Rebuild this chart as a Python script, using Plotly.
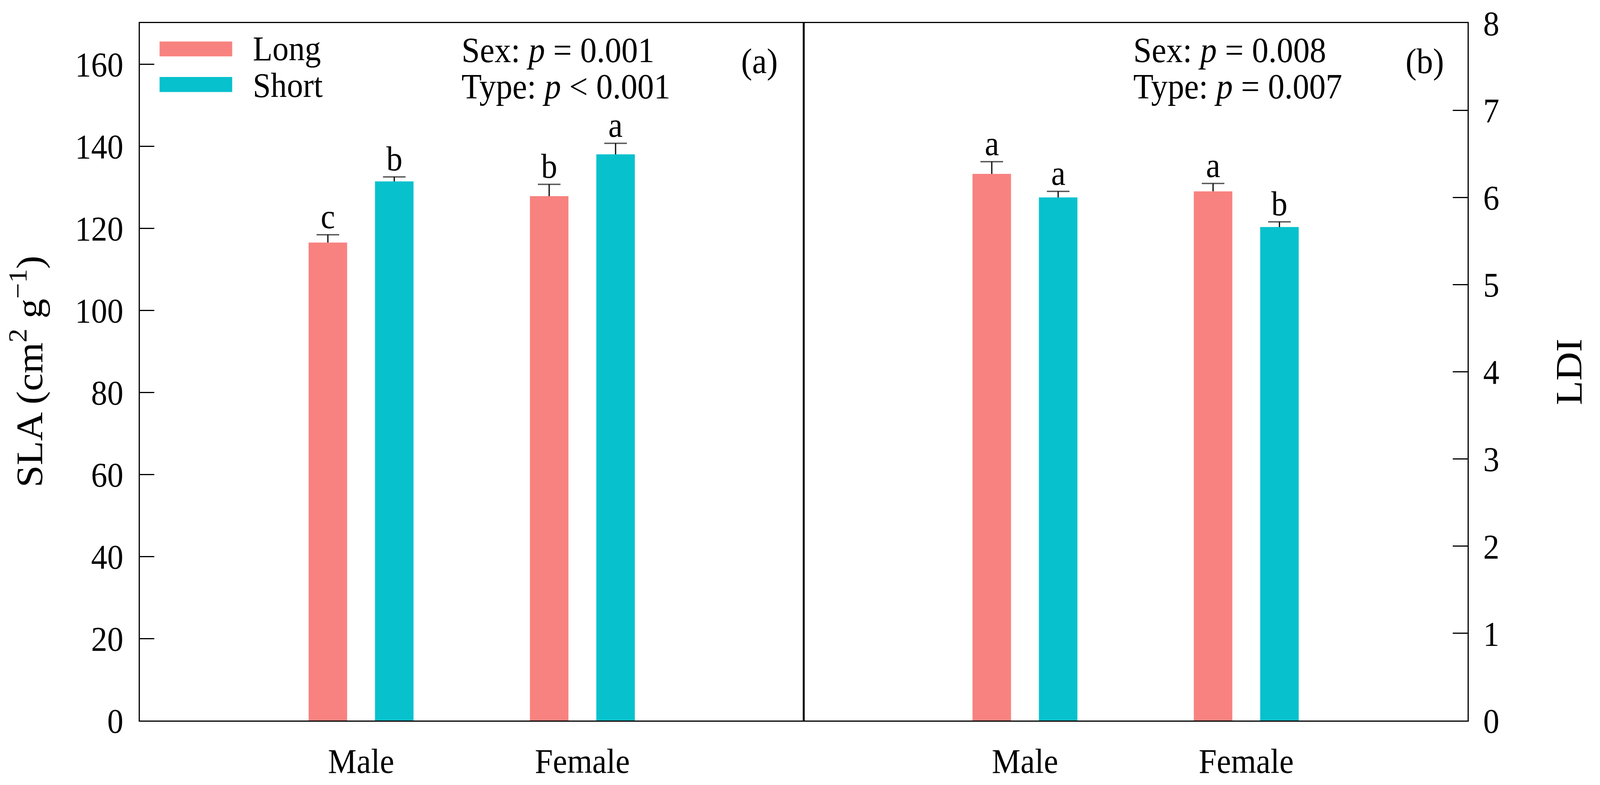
import plotly.graph_objects as go

# ---------------- data ----------------
categories = ["Male", "Female"]
series = ["Long", "Short"]

sla_long = [116.5, 127.8]
sla_short = [131.4, 138.0]
sla_long_err = [1.9, 2.9]
sla_short_err = [1.1, 2.7]
sla_long_letters = ["c", "b"]
sla_short_letters = ["b", "a"]

ldi_long = [6.27, 6.07]
ldi_short = [6.00, 5.66]
ldi_long_err = [0.14, 0.09]
ldi_short_err = [0.07, 0.06]
ldi_long_letters = ["a", "a"]
ldi_short_letters = ["a", "b"]

sla_ticks = [0, 20, 40, 60, 80, 100, 120, 140, 160]
ldi_ticks = [0, 1, 2, 3, 4, 5, 6, 7, 8]

stats_a = ["Sex: <i>p</i> = 0.001", "Type: <i>p</i> &lt; 0.001"]
stats_b = ["Sex: <i>p</i> = 0.008", "Type: <i>p</i> = 0.007"]

# ---------------- style ----------------
W, H = 4361, 2009
FONT = "Liberation Serif, Times New Roman, serif"
C_LONG = "#F8827F"
C_SHORT = "#07C1CD"
ERR_C = "#111111"
OFF = 0.15
BW = 0.174
FS = 88
SFS = 90
TFS = 102

fig = go.Figure()


def add_panel(xa, ya, long_v, short_v, long_e, short_e, long_l, short_l):
    xl = [i - OFF for i in range(len(categories))]
    xs = [i + OFF for i in range(len(categories))]
    fig.add_trace(go.Bar(x=xl, y=long_v, width=BW, marker=dict(color=C_LONG, line=dict(width=0)),
                         name=series[0], showlegend=False, xaxis=xa, yaxis=ya))
    fig.add_trace(go.Bar(x=xs, y=short_v, width=BW, marker=dict(color=C_SHORT, line=dict(width=0)),
                         name=series[1], showlegend=False, xaxis=xa, yaxis=ya))
    # upper-only error bars
    for xx, vv, ee in ((xl, long_v, long_e), (xs, short_v, short_e)):
        ex, ey, sizes = [], [], []
        for x0, v, e in zip(xx, vv, ee):
            ex += [x0, x0, None]
            ey += [v, v + e, None]
            sizes += [0, 44, 0]
        fig.add_trace(go.Scatter(x=ex, y=ey, mode="lines+markers", showlegend=False,
                                 line=dict(color=ERR_C, width=3.5),
                                 marker=dict(symbol="line-ew", size=sizes,
                                             line=dict(color=ERR_C, width=3.5)),
                                 hoverinfo="skip", xaxis=xa, yaxis=ya))
    xref = "x" if xa == "x" else "x2"
    yref = "y" if ya == "y" else "y2"
    for xx, vv, ee, ll in ((xl, long_v, long_e, long_l), (xs, short_v, short_e, short_l)):
        for x0, v, e, t in zip(xx, vv, ee, ll):
            fig.add_annotation(x=x0, y=v + e, xref=xref, yref=yref, text=t, showarrow=False,
                               yanchor="bottom", yshift=-4,
                               font=dict(family=FONT, size=FS, color="black"))


add_panel("x", "y", sla_long, sla_short, sla_long_err, sla_short_err, sla_long_letters, sla_short_letters)
add_panel("x2", "y2", ldi_long, ldi_short, ldi_long_err, ldi_short_err, ldi_long_letters, ldi_short_letters)

axis_common = dict(showgrid=False, zeroline=False, showline=True, linecolor="black", linewidth=3,
                   mirror=True, tickfont=dict(family=FONT, size=FS, color="black"))

fig.update_layout(
    width=W, height=H,
    margin=dict(l=381, r=361, t=51, b=148),
    paper_bgcolor="white", plot_bgcolor="white",
    showlegend=False,
    xaxis=dict(domain=[0, 0.5], range=[-1, 2], tickvals=[0, 1], ticktext=categories,
               ticks="", ticklabelstandoff=25, anchor="y", **axis_common),
    xaxis2=dict(domain=[0.5, 1], range=[-1, 2], tickvals=[0, 1], ticktext=categories,
                ticks="", ticklabelstandoff=25, anchor="y2", **axis_common),
    yaxis=dict(range=[0, 170], tickvals=sla_ticks, ticks="inside", ticklen=40, tickwidth=3,
               tickcolor="black", ticklabelstandoff=24, anchor="x", **axis_common),
    yaxis2=dict(range=[0, 8], tickvals=ldi_ticks, ticks="inside", ticklen=40, tickwidth=3,
                tickcolor="black", ticklabelstandoff=22, anchor="x2", side="right", **axis_common),
)

# axis titles
fig.add_annotation(x=-0.0851, y=0.5, xref="paper", yref="paper", text="SLA (cm<sup>2</sup> g<sup>\u22121</sup>)",
                   textangle=-90, showarrow=False, xanchor="center", yanchor="middle",
                   font=dict(family=FONT, size=TFS, color="black"))
fig.add_annotation(x=1.0763, y=0.5, xref="paper", yref="paper", text="LDI",
                   textangle=-90, showarrow=False, xanchor="center", yanchor="middle",
                   font=dict(family=FONT, size=TFS, color="black"))

# statistics text
for txt, xp, yp in ((stats_a[0], 0.2418, 0.9612), (stats_a[1], 0.2418, 0.9090),
                    (stats_b[0], 0.7477, 0.9612), (stats_b[1], 0.7477, 0.9090)):
    fig.add_annotation(x=xp, y=yp, xref="paper", yref="paper", text=txt, showarrow=False,
                       xanchor="left", yanchor="middle", font=dict(family=FONT, size=SFS, color="black"))

for txt, xp in (("(a)", 0.4667), ("(b)", 0.9677)):
    fig.add_annotation(x=xp, y=0.9453, xref="paper", yref="paper", text=txt, showarrow=False,
                       xanchor="center", yanchor="middle", font=dict(family=FONT, size=SFS, color="black"))

# legend (drawn manually to match large swatches)
for name, col, y0, y1, yt in ((series[0], C_LONG, 0.9522, 0.9735, 0.9634),
                              (series[1], C_SHORT, 0.9011, 0.9227, 0.9106)):
    fig.add_shape(type="rect", xref="paper", yref="paper", x0=0.0149, x1=0.0696, y0=y0, y1=y1,
                  fillcolor=col, line=dict(width=0))
    fig.add_annotation(x=0.0846, y=yt, xref="paper", yref="paper", text=name, showarrow=False,
                       xanchor="left", yanchor="middle", font=dict(family=FONT, size=FS, color="black"))

# make the fixed-size figure fit the browser viewport exactly
fit_js = """
var gd = document.getElementById('{plot_id}');
document.documentElement.style.margin = '0';
document.body.style.margin = '0';
document.documentElement.style.overflow = 'hidden';
document.body.style.overflow = 'hidden';
var sx = window.innerWidth / %d, sy = window.innerHeight / %d;
gd.style.transformOrigin = '0 0';
gd.style.transform = 'scale(' + sx + ',' + sy + ')';
""" % (W, H)

fig.write_html("out.html", post_script=fit_js, config={"displayModeBar": False})
